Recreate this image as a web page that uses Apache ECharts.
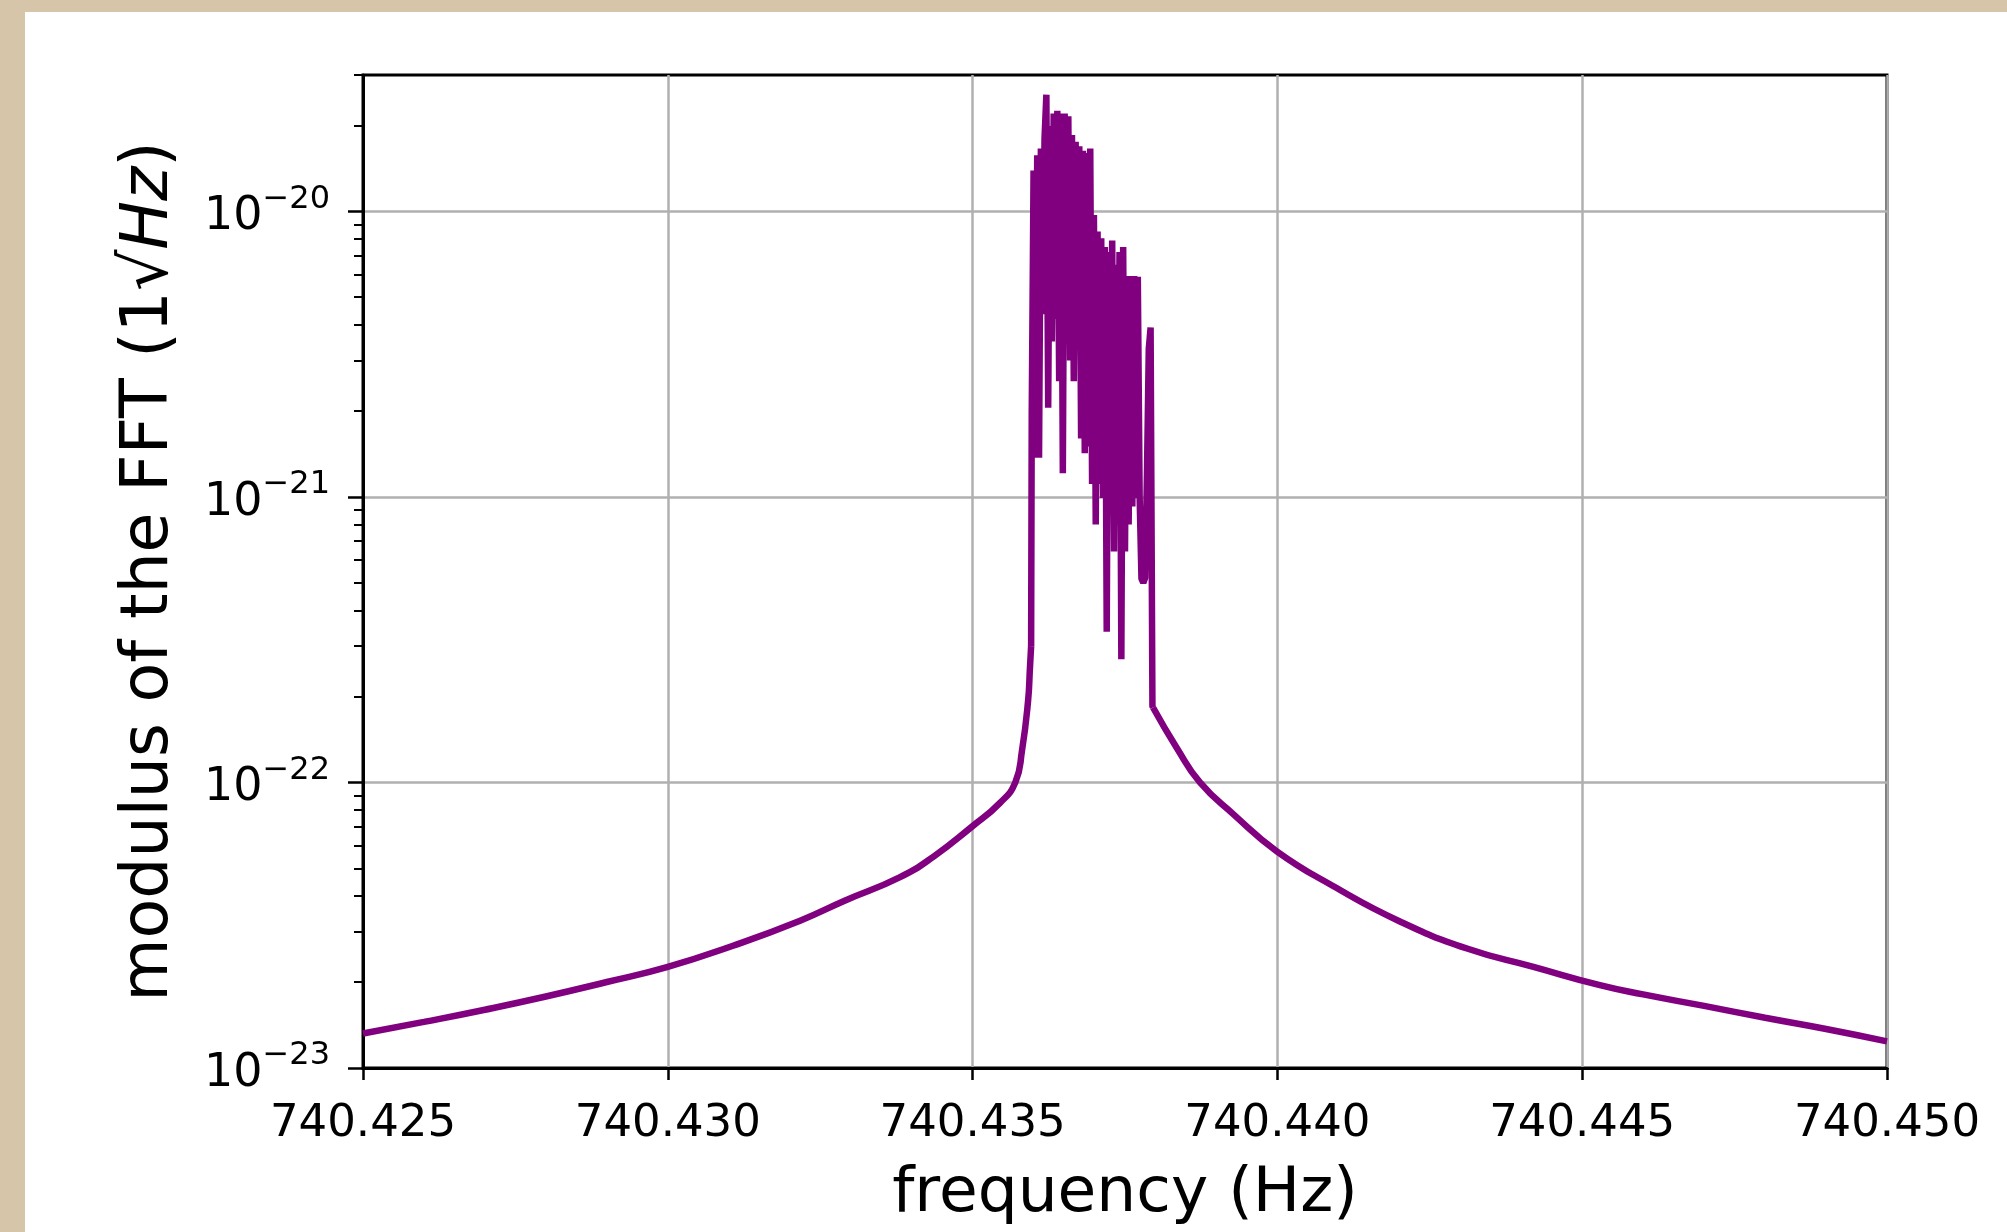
<!DOCTYPE html>
<html>
<head>
<meta charset="utf-8">
<script src="https://cdn.jsdelivr.net/npm/echarts@6/dist/echarts.min.js"></script>
<style>
html, body { margin: 0; padding: 0; width: 2007px; height: 1232px; background: #d6c5a8; overflow: hidden; }
#main { position: absolute; left: 25px; top: 12px; width: 1982px; height: 1220px; background: #fff; }
</style>
</head>
<body>
<div id="main"></div>
<script>
// left wing of the resonance
var leftFreq = [740.4250, 740.4260, 740.4270, 740.4280, 740.4290, 740.4300, 740.43107, 740.43217,
    740.43291, 740.43381, 740.43436, 740.4350, 740.43545, 740.4357, 740.43581, 740.43591,
    740.43594, 740.43596];
var leftVal = [1.32e-23, 1.45e-23, 1.60e-23, 1.78e-23, 2.0e-23, 2.26e-23, 2.68e-23, 3.28e-23,
    3.86e-23, 4.66e-23, 5.5e-23, 7.03e-23, 8.48e-23, 1.0e-22, 1.29e-22, 1.93e-22,
    2.5e-22, 3.0e-22];

// noisy peak
var peakFreq = [740.43597, 740.43600, 740.43603, 740.43606, 740.43609, 740.43612, 740.43615, 740.43618,
    740.43621, 740.43624, 740.43627, 740.43630, 740.43633, 740.43636, 740.43639, 740.43642,
    740.43645, 740.43648, 740.43651, 740.43654, 740.43657, 740.43660, 740.43663, 740.43666,
    740.43669, 740.43672, 740.43675, 740.43678, 740.43681, 740.43684, 740.43687, 740.43690,
    740.43693, 740.43696, 740.43699, 740.43702, 740.43705, 740.43708, 740.43711, 740.43714,
    740.43717, 740.43720, 740.43723, 740.43726, 740.43729, 740.43732, 740.43735, 740.43738,
    740.43741, 740.43744, 740.43747, 740.43750, 740.43753, 740.43756, 740.43759, 740.43762,
    740.43765, 740.43768, 740.43771, 740.43774, 740.43777, 740.43780, 740.43783, 740.43786,
    740.43789, 740.43792, 740.43795];
var peakVal = [1.97e-21, 1.39e-20, 1.37e-21, 1.57e-20, 1.37e-21, 1.66e-20, 4.36e-21, 1.80e-20,
    2.56e-20, 2.05e-21, 1.99e-20, 3.5e-21, 2.2e-20, 4.2e-21, 2.25e-20, 2.54e-21,
    2.2e-20, 1.21e-21, 2.2e-20, 5.0e-21, 2.15e-20, 3.0e-21, 1.85e-20, 2.54e-21,
    1.75e-20, 3.64e-21, 1.69e-20, 1.6e-21, 1.63e-20, 1.42e-21, 1.6e-20, 1.5e-21,
    1.66e-20, 1.11e-21, 9.7e-21, 8.0e-22, 8.5e-21, 1.11e-21, 8.05e-21, 9.9e-22,
    7.5e-21, 3.37e-22, 7.2e-21, 9.25e-22, 7.9e-21, 6.44e-22, 6.5e-21, 8.0e-22,
    7.2e-21, 2.7e-22, 7.5e-21, 6.44e-22, 5.93e-21, 8.0e-22, 5.93e-21, 9.25e-22,
    5.93e-21, 9.9e-22, 5.9e-21, 1.0e-21, 5.17e-22, 5.0e-22, 5.2e-22, 1.2e-21,
    3.3e-21, 3.92e-21, 1.85e-22];

// right wing
var rightFreq = [740.43796, 740.43835, 740.43873, 740.43928, 740.43999, 740.44092, 740.44201, 740.44311,
    740.44420, 740.44529, 740.4460, 740.4470, 740.4480, 740.4490, 740.4500];
var rightVal = [1.83e-22, 1.32e-22, 1.0e-22, 7.73e-23, 5.74e-23, 4.33e-23, 3.26e-23, 2.62e-23,
    2.26e-23, 1.95e-23, 1.81e-23, 1.65e-23, 1.50e-23, 1.37e-23, 1.24e-23];

var majorTicks = [1e-23, 1e-22, 1e-21, 1e-20];
var minorTicks = [2e-23, 3e-23, 4e-23, 5e-23, 6e-23, 7e-23, 8e-23, 9e-23,
    2e-22, 3e-22, 4e-22, 5e-22, 6e-22, 7e-22, 8e-22, 9e-22,
    2e-21, 3e-21, 4e-21, 5e-21, 6e-21, 7e-21, 8e-21, 9e-21,
    2e-20, 3e-20];

function pairs(fAry, vAry) {
    var out = [];
    for (var i = 0; i < fAry.length; i++) out.push([fAry[i], vAry[i]]);
    return out;
}
var leftData = pairs(leftFreq, leftVal);
var rightData = pairs(rightFreq, rightVal);
// peak joined to the last left point and the first right point
var peakData = [leftData[leftData.length - 1]].concat(pairs(peakFreq, peakVal), [rightData[0]]);

var FONT = 'DejaVu Sans';
var PURPLE = '#800080';
var chartDom = document.getElementById('main');
var myChart = echarts.init(chartDom);
var option = {
    animation: false,
    grid: {
        left: 338, top: 63, right: 120, bottom: 164,
        show: true, borderColor: '#000', borderWidth: 3
    },
    xAxis: {
        type: 'value',
        min: 740.425,
        max: 740.45,
        interval: 0.005,
        name: 'frequency (Hz)',
        nameLocation: 'middle',
        nameGap: 95,
        nameTextStyle: { fontFamily: FONT, fontSize: 63, color: '#000' },
        axisLine: { lineStyle: { color: '#000', width: 3 } },
        axisTick: { length: 12, lineStyle: { color: '#000', width: 2.5 } },
        axisLabel: {
            fontFamily: FONT, fontSize: 45, color: '#000', margin: 34,
            formatter: function (v) { return v.toFixed(3); }
        },
        splitLine: { show: true, lineStyle: { color: '#b0b0b0', width: 2.5 } }
    },
    yAxis: [
        {
            type: 'log',
            logBase: 10,
            min: 1e-23,
            max: 3e-20,
            position: 'left',
            name: 'modulus of the FFT (1√{i|Hz})',
            nameLocation: 'middle',
            nameGap: 180,
            nameTextStyle: {
                fontFamily: FONT, fontSize: 65, color: '#000',
                rich: { i: { fontFamily: FONT, fontSize: 65, fontStyle: 'italic', color: '#000' } }
            },
            axisLine: { lineStyle: { color: '#000', width: 3 } },
            axisTick: { length: 15, customValues: majorTicks, lineStyle: { color: '#000', width: 2.5 } },
            axisLabel: {
                customValues: majorTicks,
                margin: 33,
                formatter: function (v) {
                    var e = Math.round(Math.log10(v));
                    return '{b|10}{s|−' + (-e) + '}';
                },
                rich: {
                    b: { fontFamily: FONT, fontSize: 46, color: '#000', padding: [12, 0, 0, 0] },
                    s: { fontFamily: FONT, fontSize: 32, color: '#000', padding: [0, 0, 24, 0] }
                }
            },
            splitLine: { show: true, lineStyle: { color: '#b0b0b0', width: 2.5 } }
        },
        {
            // minor ticks 2..9 of each decade
            type: 'log',
            logBase: 10,
            min: 1e-23,
            max: 3e-20,
            position: 'left',
            axisLine: { show: false },
            axisTick: { length: 9, customValues: minorTicks, lineStyle: { color: '#000', width: 2 } },
            axisLabel: { show: false },
            splitLine: { show: false }
        }
    ],
    series: [
        {
            type: 'line',
            data: leftData,
            showSymbol: false,
            smooth: 0.5,
            lineStyle: { color: PURPLE, width: 6.5 }
        },
        {
            type: 'line',
            data: peakData,
            showSymbol: false,
            sampling: 'none',
            lineStyle: { color: PURPLE, width: 6.5 }
        },
        {
            type: 'line',
            data: rightData,
            showSymbol: false,
            smooth: 0.5,
            lineStyle: { color: PURPLE, width: 6.5 }
        }
    ]
};
myChart.setOption(option);
</script>
</body>
</html>
